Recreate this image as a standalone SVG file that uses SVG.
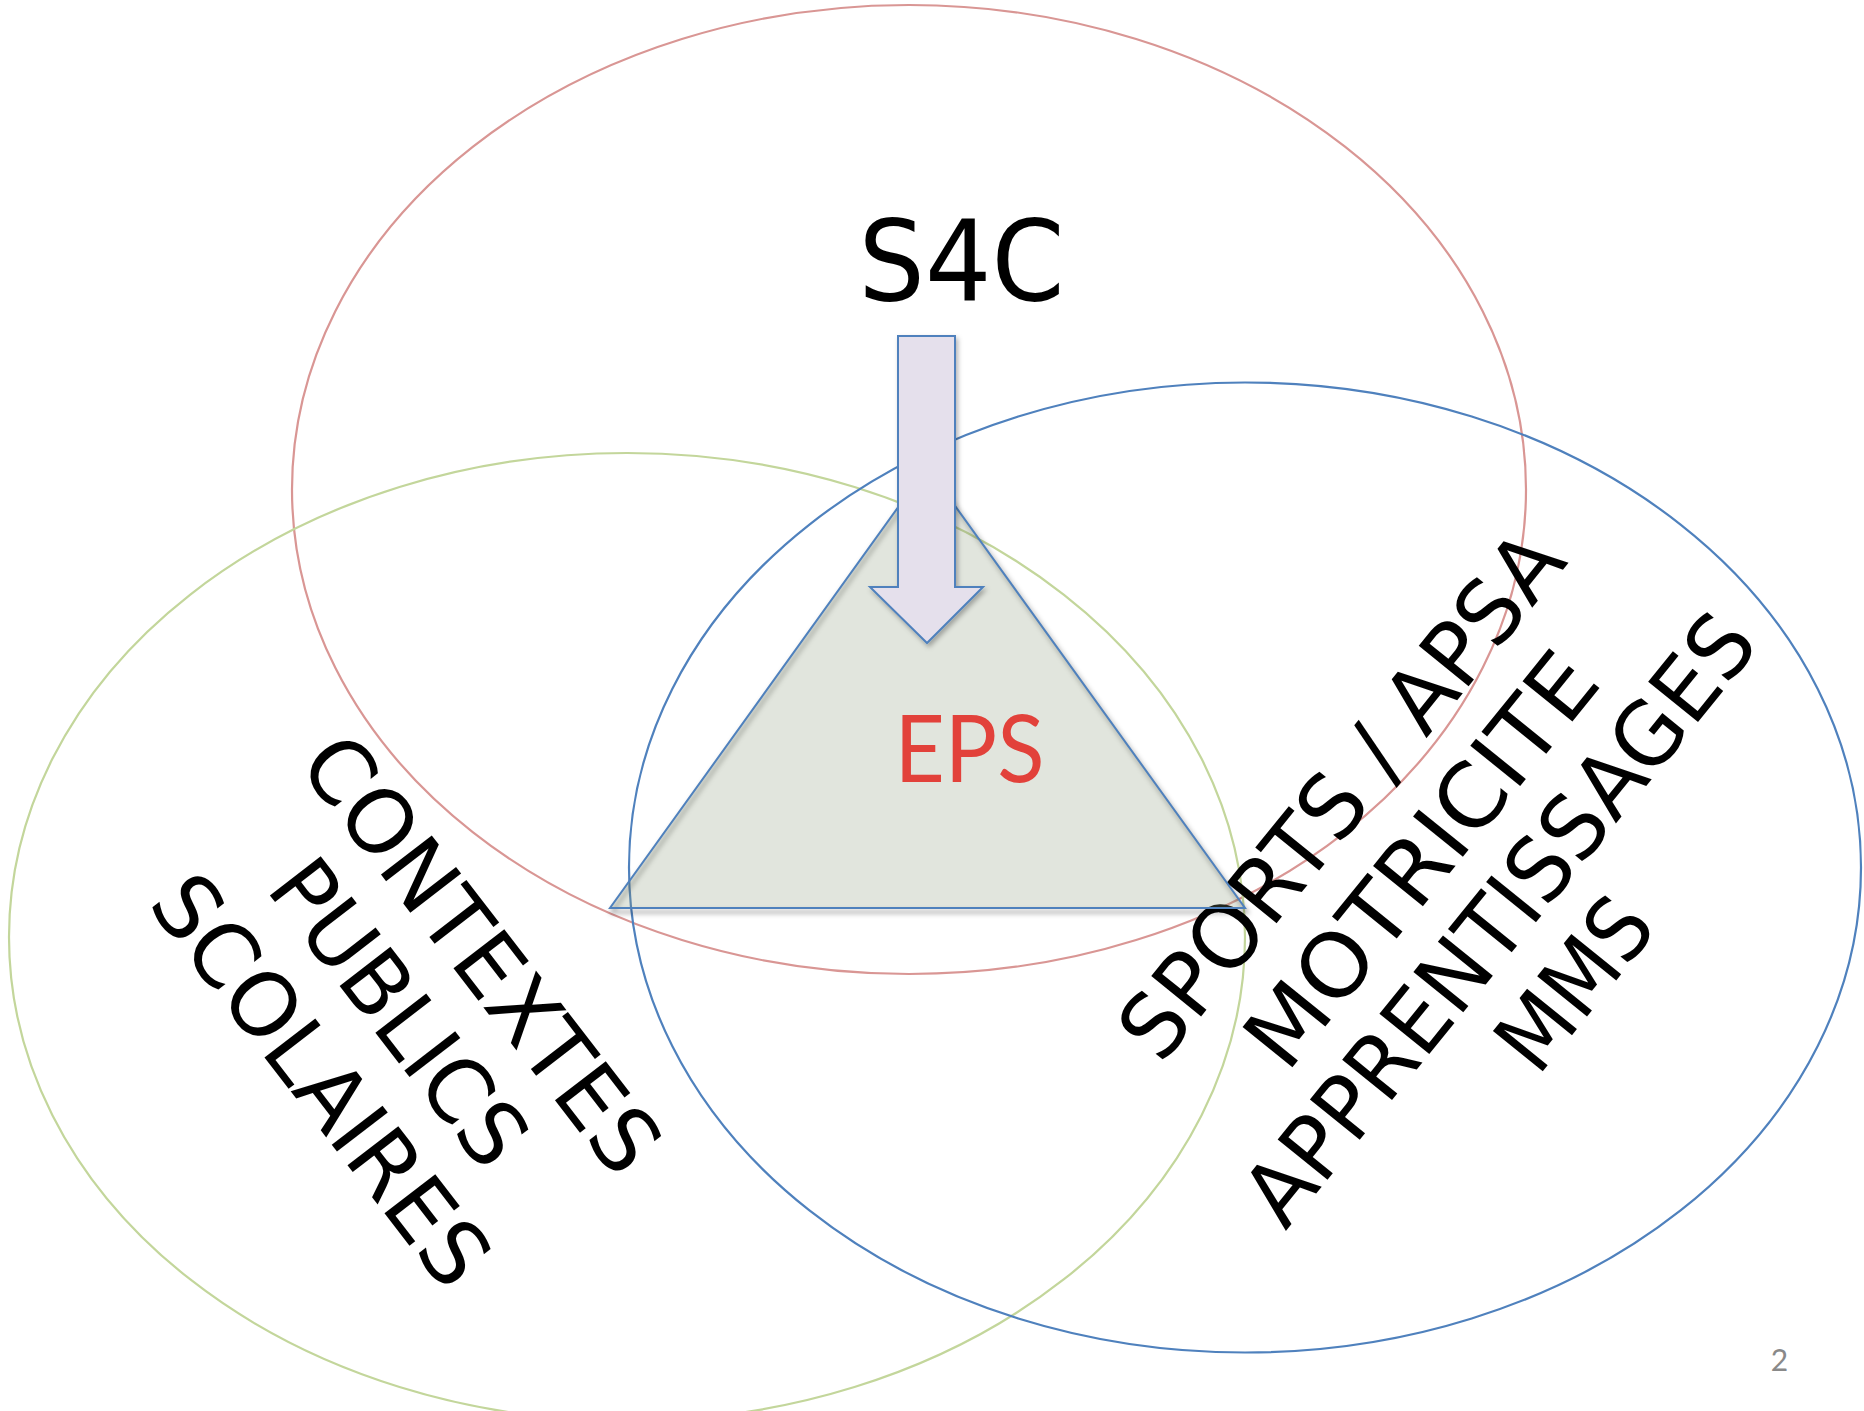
<svg xmlns="http://www.w3.org/2000/svg" width="1864" height="1411" viewBox="0 0 1864 1411">
<defs>
<style>
.ell{fill:none;stroke-width:2.2}
.lbl{font-family:'Comic Sans MS','DejaVu Sans',sans-serif;fill:#000;text-anchor:middle;font-size:88px}
.gill{font-family:'Gill Sans MT','Lato','Open Sans',sans-serif;text-anchor:middle}
</style>
<filter id="soft" x="-5%" y="-5%" width="110%" height="110%"><feGaussianBlur stdDeviation="2.5"/></filter>
<filter id="dsh" x="-20%" y="-10%" width="150%" height="130%"><feDropShadow dx="2" dy="3" stdDeviation="2.5" flood-color="#000" flood-opacity="0.3"/></filter>
</defs>
<rect width="1864" height="1411" fill="#ffffff"/>
<g id="ellipses">
<ellipse id="ell-s4c" class="ell" cx="909" cy="489.5" rx="617" ry="484.5" stroke="#d99694"/>
<ellipse id="ell-contextes" class="ell" cx="627" cy="937" rx="618" ry="484" stroke="#c3d69b"/>
<ellipse id="ell-sports" class="ell" cx="1245" cy="867.5" rx="616" ry="485" stroke="#4f81bd"/>
</g>
<g id="node-contextes" transform="translate(457,973) rotate(52.4)">
<text class="lbl" x="0" y="0" textLength="525" lengthAdjust="spacingAndGlyphs">CONTEXTES</text>
<text class="lbl" x="-4" y="101" textLength="360" lengthAdjust="spacingAndGlyphs">PUBLICS</text>
<text class="lbl" x="2" y="204" textLength="492" lengthAdjust="spacingAndGlyphs">SCOLAIRES</text>
</g>
<g id="node-sports" transform="translate(1365,814) rotate(-51)">
<text class="lbl" x="0" y="0" textLength="648" lengthAdjust="spacingAndGlyphs">SPORTS / APSA</text>
<text class="lbl" x="0" y="103" textLength="503" lengthAdjust="spacingAndGlyphs">MOTRICITE</text>
<text class="lbl" x="3" y="201" textLength="755" lengthAdjust="spacingAndGlyphs">APPRENTISSAGES</text>
<text class="lbl" x="0" y="300" textLength="192" lengthAdjust="spacingAndGlyphs">MMS</text>
</g>
<g id="node-eps">
<polygon points="929,470 612,912 1247,912" fill="none" stroke="#000" stroke-opacity="0.35" stroke-width="3" filter="url(#soft)"/>
<polygon points="927,467 610,908 1245,908" fill="rgb(135,150,120)" fill-opacity="0.25" stroke="#4f81bd" stroke-width="2" stroke-linejoin="miter"/>
<text class="gill" x="969.5" y="782" font-size="93" fill="#e2413a" textLength="150" lengthAdjust="spacingAndGlyphs">EPS</text>
</g>
<g id="connectors">
<path d="M898,336 H955 V587 H983 L927,643 L870,587 H898 Z" fill="#e5e0ec" stroke="#4f81bd" stroke-width="2" filter="url(#dsh)"/>
</g>
<g id="node-s4c">
<text class="lbl" x="961.5" y="300" font-size="112" textLength="206" lengthAdjust="spacingAndGlyphs" style="font-size:112px">S4C</text>
</g>
<g id="page-number">
<text class="gill" x="1779.5" y="1371" font-size="30" fill="#898989">2</text>
</g>
</svg>
